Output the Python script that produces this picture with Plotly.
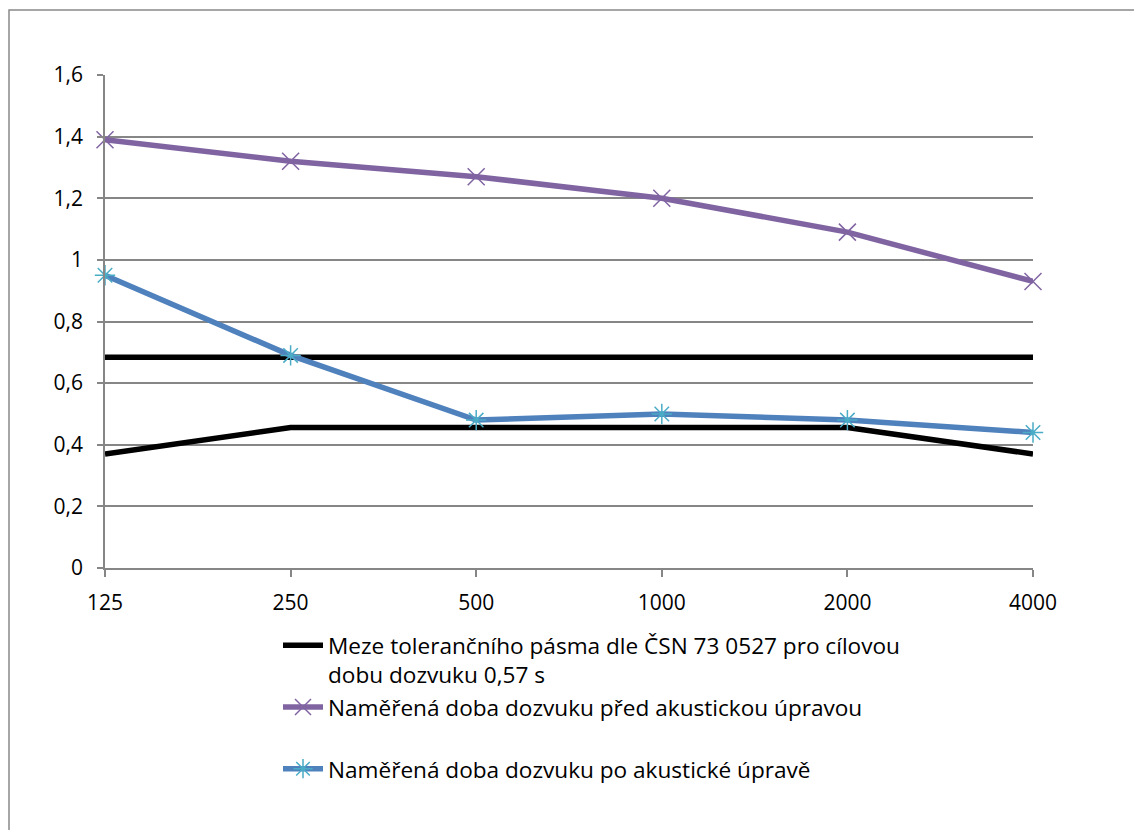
import plotly.graph_objects as go

freqs = ["125", "250", "500", "1000", "2000", "4000"]
tol_upper = [0.684, 0.684, 0.684, 0.684, 0.684, 0.684]
tol_lower = [0.37, 0.456, 0.456, 0.456, 0.456, 0.37]
before = [1.39, 1.32, 1.27, 1.20, 1.09, 0.93]
after = [0.95, 0.69, 0.48, 0.50, 0.48, 0.44]

name_tol = "Meze tolerančního pásma dle ČSN 73 0527 pro cílovou<br>dobu dozvuku 0,57 s"
name_before = "Naměřená doba dozvuku před akustickou úpravou<br> "
name_after = "Naměřená doba dozvuku po akustické úpravě"

FONT = "Open Sans, sans-serif"

fig = go.Figure()
fig.add_trace(go.Scatter(x=freqs, y=tol_upper, mode="lines", name=name_tol,
                         line=dict(color="#000000", width=5.5), legendgroup="tol",
                         cliponaxis=False))
fig.add_trace(go.Scatter(x=freqs, y=tol_lower, mode="lines", name=name_tol,
                         line=dict(color="#000000", width=5.5), legendgroup="tol",
                         showlegend=False, cliponaxis=False))
fig.add_trace(go.Scatter(x=freqs, y=before, mode="lines+markers", name=name_before,
                         line=dict(color="#8064A2", width=5.5),
                         marker=dict(symbol="x-thin", size=17, color="#8064A2",
                                     line=dict(color="#8064A2", width=1.5)),
                         cliponaxis=False))
fig.add_trace(go.Scatter(x=freqs, y=after, mode="lines+markers", name=name_after,
                         line=dict(color="#4F81BD", width=5.5),
                         marker=dict(symbol="asterisk", size=17, color="#4BACC6",
                                     line=dict(color="#4BACC6", width=1.5)),
                         cliponaxis=False))

L, R, T, B = 105, 101, 75, 262
W, H = 1134, 830
pw, ph = W - L - R, H - T - B

fig.update_layout(
    width=W, height=H,
    margin=dict(l=L, r=R, t=T, b=B),
    paper_bgcolor="white", plot_bgcolor="white",
    separators=", ",
    font=dict(family=FONT, size=21, color="#000000"),
    showlegend=True,
    legend=dict(x=(278 - L) / pw, y=1 - (624 - T) / ph, xanchor="left", yanchor="top",
                valign="top", font=dict(family=FONT, size=22.6, color="#000000"),
                bgcolor="rgba(0,0,0,0)", itemwidth=40, tracegroupgap=0),
    xaxis=dict(type="category", range=[0, 5], showgrid=False, showline=True,
               linecolor="#868686", linewidth=1.5, ticks="outside", ticklen=7,
               tickcolor="#868686", tickwidth=1.5, zeroline=False,
               tickfont=dict(family=FONT, size=21), ticklabelstandoff=8),
    yaxis=dict(range=[0, 1.6], dtick=0.2, tick0=0, showgrid=True, gridcolor="#868686",
               gridwidth=1.5, showline=True, linecolor="#868686", linewidth=1.5,
               ticks="outside", ticklen=6, tickcolor="#868686", tickwidth=1.5,
               zeroline=False, tickfont=dict(family=FONT, size=21), ticklabelstandoff=10),
    shapes=[dict(type="rect", xref="paper", yref="paper",
                 x0=(9 - L) / pw, x1=(1200 - L) / pw,
                 y0=1 - (900 - T) / ph, y1=1 + (T - 10) / ph,
                 line=dict(color="#898989", width=1.5), fillcolor="rgba(0,0,0,0)",
                 layer="below")],
)

fig.write_html("out.html")
